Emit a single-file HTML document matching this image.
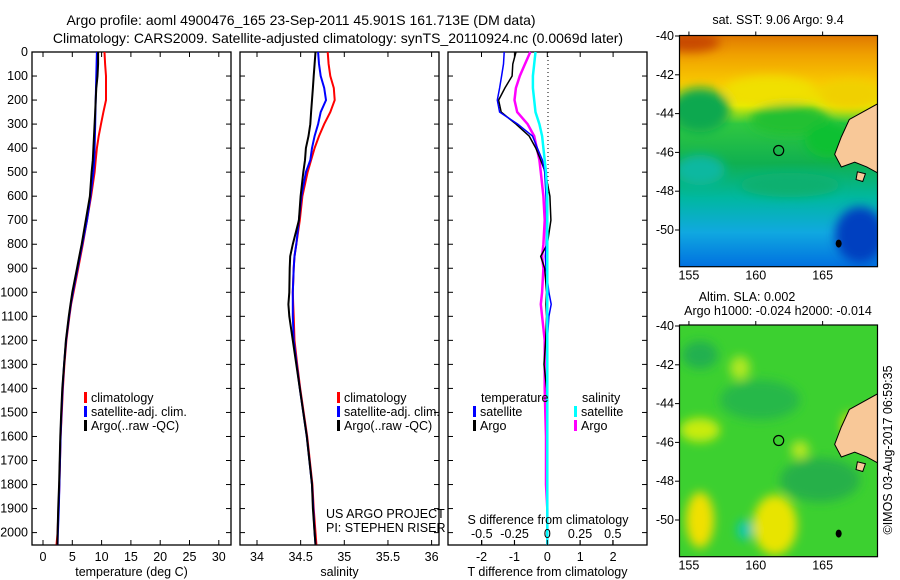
<!DOCTYPE html>
<html><head><meta charset="utf-8"><style>
body{margin:0;background:#fff}
svg{display:block;font-family:"Liberation Sans",sans-serif;font-size:12.5px}
</style></head><body>
<svg id="fig" width="900" height="580" viewBox="0 0 900 580" xmlns="http://www.w3.org/2000/svg">
<defs>
<linearGradient id="sstg" x1="0" y1="0" x2="0" y2="1">
<stop offset="0" stop-color="#e07a00"/><stop offset="0.08" stop-color="#f0a000"/><stop offset="0.2" stop-color="#f8c800"/><stop offset="0.3" stop-color="#e8ec00"/><stop offset="0.38" stop-color="#30c840"/><stop offset="0.55" stop-color="#10b050"/><stop offset="0.7" stop-color="#00b8a0"/><stop offset="0.85" stop-color="#10a8e0"/><stop offset="1" stop-color="#0070e0"/>
</linearGradient>
<filter id="bl" x="-50%" y="-50%" width="200%" height="200%"><feGaussianBlur stdDeviation="5"/></filter>
<clipPath id="c1"><rect x="680" y="36" width="197" height="231"/></clipPath>
<clipPath id="c2"><rect x="680" y="325" width="197" height="232"/></clipPath>
</defs>
<g id="titles" style="font-size:14px">
<text x="301" y="25" text-anchor="middle">Argo profile: aoml 4900476_165 23-Sep-2011 45.901S 161.713E (DM data)</text>
<text x="338" y="43" text-anchor="middle">Climatology: CARS2009. Satellite-adjusted climatology: synTS_20110924.nc (0.0069d later)</text>
</g>
<g id="panels"></g>
<g id="maps">
<g clip-path="url(#c1)">
<rect x="680" y="36" width="197" height="231" fill="url(#sstg)"/>
<g filter="url(#bl)">
<ellipse cx="690" cy="42" rx="30" ry="10" fill="#c84800"/>
<ellipse cx="700" cy="110" rx="30" ry="22" fill="#10a850"/>
<ellipse cx="770" cy="90" rx="45" ry="14" fill="#f0e000"/>
<ellipse cx="850" cy="95" rx="30" ry="15" fill="#f0d000"/>
<ellipse cx="790" cy="120" rx="40" ry="15" fill="#20c030"/>
<ellipse cx="700" cy="170" rx="25" ry="15" fill="#10b8a0"/>
<ellipse cx="790" cy="185" rx="50" ry="12" fill="#10b070"/>
<ellipse cx="860" cy="235" rx="25" ry="28" fill="#0040c0"/>
<ellipse cx="830" cy="140" rx="25" ry="18" fill="#10c030"/>
</g>
</g>
<g clip-path="url(#c2)">
<rect x="680" y="325" width="197" height="232" fill="#3cd030"/>
<g filter="url(#bl)">
<ellipse cx="700" cy="355" rx="18" ry="14" fill="#20b050"/>
<ellipse cx="760" cy="400" rx="40" ry="20" fill="#28b848"/>
<ellipse cx="700" cy="430" rx="20" ry="12" fill="#c8ec10"/>
<ellipse cx="740" cy="368" rx="10" ry="12" fill="#b0e820"/>
<ellipse cx="700" cy="520" rx="14" ry="28" fill="#f0e000"/>
<ellipse cx="775" cy="525" rx="22" ry="30" fill="#e8e400"/>
<ellipse cx="745" cy="530" rx="8" ry="10" fill="#10c8b0"/>
<ellipse cx="820" cy="480" rx="40" ry="22" fill="#28b048"/>
<ellipse cx="850" cy="425" rx="8" ry="12" fill="#f0e000"/>
<ellipse cx="800" cy="450" rx="9" ry="9" fill="#b8e820"/>
</g>
</g>
</g>
<g id="mapfg"></g>
</svg>
<script>
// ---------- profile data ----------
const depths=[0,50,100,150,200,250,300,350,400,450,500,600,700,800,850,900,1000,1050,1100,1200,1300,1400,1500,1600,1700,1800,1900,2000,2050];
const tempArgo=[9.4,9.4,9.3,9.1,9.0,8.9,8.8,8.7,8.6,8.5,8.3,8.0,7.3,6.6,6.2,5.8,5.0,4.7,4.4,3.9,3.6,3.3,3.1,2.95,2.85,2.75,2.6,2.5,2.45];
const tempSat=[9.2,9.15,9.1,9.05,9.0,8.95,8.9,8.85,8.8,8.75,8.6,8.1,7.5,6.7,6.3,5.9,5.1,4.75,4.45,3.95,3.6,3.35,3.15,3.0,2.9,2.8,2.7,2.55,2.5];
const tempClim=[10.5,10.6,10.75,10.75,10.75,10.3,9.9,9.5,9.2,9.0,8.8,8.2,7.5,6.8,6.4,6.0,5.2,4.8,4.5,4.0,3.65,3.4,3.2,3.0,2.9,2.8,2.65,2.5,2.3];
const salArgo=[34.67,34.66,34.65,34.64,34.63,34.62,34.61,34.59,34.56,34.55,34.53,34.50,34.48,34.41,34.38,34.375,34.37,34.36,34.37,34.41,34.45,34.49,34.53,34.57,34.60,34.63,34.64,34.66,34.67];
const salSat=[34.70,34.71,34.73,34.77,34.79,34.73,34.70,34.66,34.63,34.61,34.56,34.51,34.48,34.45,34.43,34.42,34.41,34.41,34.41,34.42,34.455,34.49,34.53,34.57,34.60,34.63,34.645,34.66,34.67];
const salClim=[34.81,34.82,34.84,34.88,34.89,34.84,34.77,34.71,34.66,34.62,34.58,34.52,34.49,34.45,34.43,34.42,34.41,34.415,34.42,34.43,34.46,34.495,34.535,34.575,34.605,34.635,34.65,34.67,34.68];
const tDiffSat=[-1.31,-1.33,-1.39,-1.45,-1.52,-1.45,-0.9,-0.45,-0.3,-0.15,-0.08,-0.04,-0.02,-0.03,-0.06,-0.04,0.05,0.12,0.05,0,0,0,0,0,0,0,0,0,0];
const tDiffArgo=[-0.95,-1.05,-1.07,-1.29,-1.48,-1.4,-0.95,-0.55,-0.35,-0.2,-0.06,0.08,0.11,0.0,-0.2,-0.08,-0.02,-0.04,-0.02,-0.05,-0.1,-0.02,0,0,0,0,0,0,0];
const sDiffArgo=[-0.13,-0.17,-0.21,-0.24,-0.25,-0.23,-0.15,-0.1,-0.08,-0.06,-0.05,-0.03,-0.02,-0.03,-0.04,-0.03,-0.04,-0.05,-0.04,-0.02,-0.02,-0.02,-0.015,-0.01,-0.01,-0.01,0,0,0];
const sDiffSat=[-0.09,-0.1,-0.11,-0.11,-0.1,-0.09,-0.06,-0.04,-0.03,-0.02,-0.01,0,0,0,0,0,0,0,0,0,0,0,0,0,0,0,0,0,0];
const depthTicks=[0,100,200,300,400,500,600,700,800,900,1000,1100,1200,1300,1400,1500,1600,1700,1800,1900,2000];
const tempTicks=[0,5,10,15,20,25,30];
const salTicks=[34,34.5,35,35.5,36];
const salTickLabels=["34","34.5","35","35.5","36"];
const tdTicks=[-2,-1,0,1,2];
const sdTicks=[-0.5,-0.25,0,0.25,0.5];
const sdTickLabels=["-0.5","-0.25","0","0.25","0.5"];
// map data
const argoLon=161.713, argoLat=-45.901;
const mapLonTicks=[155,160,165];
const mapLatTicks=[-40,-42,-44,-46,-48,-50];

const NS="http://www.w3.org/2000/svg";
const P=document.getElementById('panels');
function mk(tag,attrs,parent){const e=document.createElementNS(NS,tag);for(const k in attrs)e.setAttribute(k,attrs[k]);(parent||P).appendChild(e);return e;}
function txt(x,y,s,anchor,parent){const t=mk('text',{x:x,y:y,'text-anchor':anchor||'start'},parent);t.textContent=s;return t;}
const pTop=52,pBot=545;
const yD=d=>52+d*0.2403;

function panel(name,L,R,xs,ticks,labels,xlabel){
  const g=mk('g',{});
  
  
  const fr=mk('rect',{x:L,y:pTop,width:R-L,height:pBot-pTop,fill:'none',stroke:'#000','stroke-width':1.3},g);
  
  
  depthTicks.forEach(d=>{const y=yD(d);mk('line',{x1:L,x2:L+5,y1:y,y2:y,stroke:'#000'},g);mk('line',{x1:R-5,x2:R,y1:y,y2:y,stroke:'#000'},g);});
  if(ticks){ticks.forEach((v,i)=>{const x=xs(v);mk('line',{x1:x,x2:x,y1:pBot,y2:pBot-5,stroke:'#000'},g);mk('line',{x1:x,x2:x,y1:pTop,y2:pTop+5,stroke:'#000'},g);
    const t=txt(x,561,labels[i],'middle',g);});
   const xl=txt((L+R)/2,576,xlabel,'middle',g);}
  return g;
}
function line(g,xs,vals,color,w,name){
  const pts=depths.map((d,i)=>xs(vals[i]).toFixed(1)+','+yD(d).toFixed(1)).join(' ');
  const l=mk('polyline',{points:pts,fill:'none',stroke:color,'stroke-width':w},g);
  
  
}
function legend(g,x,y,items){
  items.forEach((it,i)=>{const yy=y+i*14;
    const m=mk('rect',{x:x,y:yy-10,width:3,height:11,fill:it[1]},g);
    
    const t=txt(x+7,yy,it[0],'start',g);});
}
const dl=mk('g',{});


depthTicks.forEach(d=>{txt(28,yD(d)+4,String(d),'end',dl);});

const xT=v=>43+v*5.86;
const g1=panel('temperature-panel',32,231,xT,tempTicks,tempTicks.map(String),'temperature (deg C)');
line(g1,xT,tempClim,'#f00',2,'temp-climatology-line');
line(g1,xT,tempSat,'#00f',2,'temp-satellite-line');
line(g1,xT,tempArgo,'#000',2,'temp-argo-line');
legend(g1,84,402,[['climatology','#f00'],['satellite-adj. clim.','#00f'],['Argo(..raw -QC)','#000']]);

const xS=v=>257+(v-34)*87.3;
const g2=panel('salinity-panel',240,439,xS,salTicks,salTickLabels,'salinity');
line(g2,xS,salClim,'#f00',2,'sal-climatology-line');
line(g2,xS,salSat,'#00f',2,'sal-satellite-line');
line(g2,xS,salArgo,'#000',2,'sal-argo-line');
legend(g2,337,402,[['climatology','#f00'],['satellite-adj. clim.','#00f'],['Argo(..raw -QC)','#000']]);
const c1=txt(326,518,'US ARGO PROJECT','start',g2);
const c2=txt(326,532,'PI: STEPHEN RISER','start',g2);

const xTD=v=>547.3+v*32.9;
const xSD=v=>547.3+v*131;
const g3=panel('difference-panel',448,647,xTD,tdTicks,tdTicks.map(String),'T difference from climatology');
mk('line',{x1:548,x2:548,y1:pTop,y2:pBot,stroke:'#000','stroke-dasharray':'1,3'},g3);
line(g3,xSD,sDiffArgo,'#f0f',2.5,'sdiff-argo-line');
line(g3,xTD,tDiffArgo,'#000',1.5,'tdiff-argo-line');
line(g3,xTD,tDiffSat,'#00f',1.5,'tdiff-satellite-line');
line(g3,xSD,sDiffSat,'#0ff',2.5,'sdiff-satellite-line');
sdTicks.forEach((v,i)=>{const x=xSD(v);mk('line',{x1:x,x2:x,y1:pBot,y2:pBot-5,stroke:'#000'},g3);const t=txt(x,538,sdTickLabels[i],'middle',g3);});
const sdt=txt(548,524,'S difference from climatology','middle',g3);
const lh1=txt(481,402,'temperature','start',g3);
const lh2=txt(582,402,'salinity','start',g3);
legend(g3,473,416,[['satellite','#00f'],['Argo','#000']]);
legend(g3,574,416,[['satellite','#0ff'],['Argo','#f0f']]);

const M=document.getElementById('mapfg');
const mx=lon=>679.3+(lon-154.28)*13.37;
function mapAxes(name,y0,y1,lat40y,title){
  const g=mk('g',{},M);
  
  
  const my=lat=>lat40y+(-40-lat)*19.4;
  const land=[[167.0,-44.3],[169.1,-43.5],[169.1,-47.05],[168.3,-46.75],[167.4,-46.5],[166.4,-46.75],[165.9,-46.1],[166.4,-45.2]];
  const lp=mk('polygon',{points:land.map(p=>mx(p[0])+','+my(p[1])).join(' '),fill:'#f8c898',stroke:'#000','stroke-width':1},g);
  
  const isl=mk('polygon',{points:[[167.6,-47.0],[168.2,-47.1],[168.0,-47.5],[167.5,-47.4]].map(p=>mx(p[0])+','+my(p[1])).join(' '),fill:'#f8c898',stroke:'#000'},g);
  
  const ai=mk('ellipse',{cx:mx(166.2),cy:my(-50.7),rx:3,ry:4,fill:'#000'},g);
  
  const c=mk('circle',{cx:mx(argoLon),cy:my(argoLat),r:5,fill:'none',stroke:'#000','stroke-width':1.2},g);
  
  const fr=mk('rect',{x:679.5,y:y0,width:198,height:y1-y0,fill:'none',stroke:'#000','stroke-width':1.2},g);
  
  mapLatTicks.forEach(l=>{const y=my(l);mk('line',{x1:675,x2:680,y1:y,y2:y,stroke:'#000'},g);const t=txt(674,y+4,String(l),'end',g);});
  mapLonTicks.forEach(l=>{const x=mx(l);mk('line',{x1:x,x2:x,y1:y0-4,y2:y0,stroke:'#000'},g);const t=txt(x,y1+13,String(l),'middle',g);});
  title.forEach((s,i)=>{const t=txt(s[1],s[2],s[0],'middle',g);});
}
mapAxes('sst-map',35.5,266.7,36,[['sat. SST: 9.06 Argo: 9.4',778,24]]);
mapAxes('sla-map',325,556.7,326,[['Altim. SLA: 0.002',747,301],['Argo h1000: -0.024 h2000: -0.014',778,315]]);
const cr=txt(0,0,'©IMOS 03-Aug-2017 06:59:35','middle',M);
cr.setAttribute('transform','translate(892,450) rotate(-90)');


</script>
</body></html>
